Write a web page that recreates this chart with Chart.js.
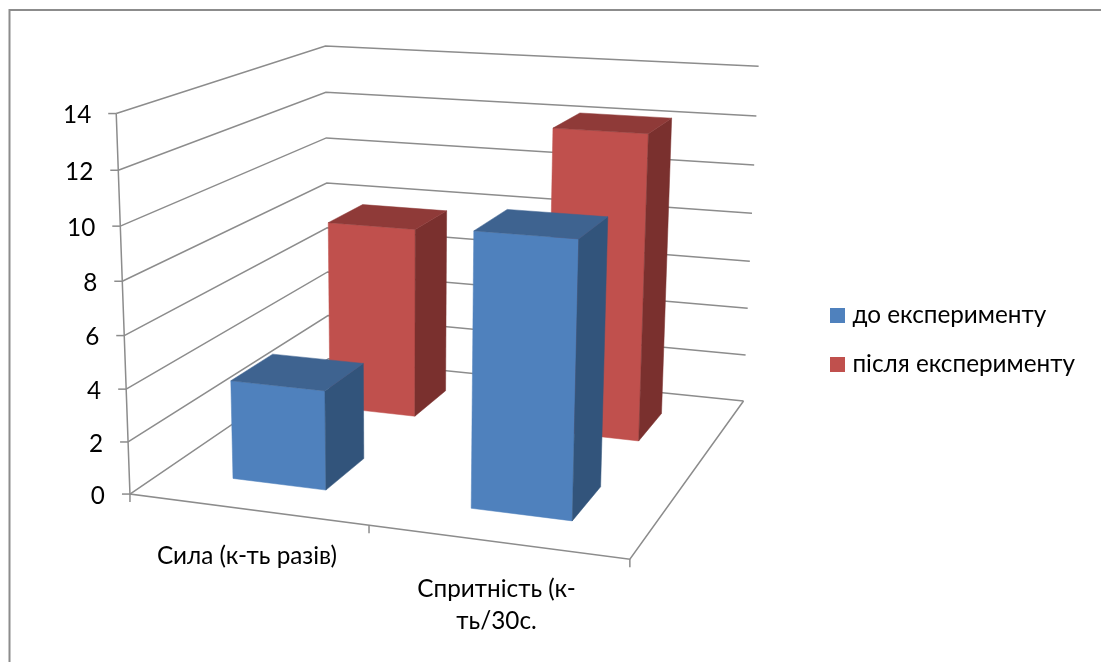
<!DOCTYPE html>
<html>
<head>
<meta charset="utf-8">
<title>Сила і спритність</title>
<script src="https://cdn.jsdelivr.net/npm/chart.js@4"></script>
<style>
  html, body { margin: 0; background: #fff; }
  canvas { display: block; }
</style>
</head>
<body>
<canvas id="myChart" width="1101" height="662"></canvas>
<script>
const categories = ["Сила (к-ть разів)", ["Спритність (к-", "ть/30с."]];
const beforeValues = [3.8, 10.15];
const afterValues = [7.8, 12.2];
const seriesNames = ["до експерименту", "після експерименту"];
const yMax = 14;
const yStep = 2;

const FONT = "Lato, 'Noto Sans', sans-serif";
const FONT_SIZE = 24.3;

// face colours of each series: front, top, side
const faces = [
  ["#4f81bd", "#3e6390", "#32547b"],
  ["#c0504d", "#8f3a38", "#7a302e"],
];

// corners of the plot box as [u, w, t] -> screen x, y
// u runs along the categories, w into the page, t up the value axis
const boxCorners = [
  [0, 0, 0, 131, 492],
  [0, 0, 1, 115, 114],
  [0, 1, 0, 327, 361],
  [0, 1, 1, 327, 45],
  [1, 1, 0, 744, 399],
  [1, 1, 1, 758, 67],
  [1, 0, 0, 630, 561],
];

// least squares fit of a 3x4 camera matrix, last entry fixed to 1
function fitCamera(pts) {
  const n = 11;
  const A = [];
  for (let i = 0; i < n; i++) A.push(new Array(n + 1).fill(0));
  function addRow(row, rhs) {
    for (let i = 0; i < n; i++) {
      for (let j = 0; j < n; j++) A[i][j] += row[i] * row[j];
      A[i][n] += row[i] * rhs;
    }
  }
  pts.forEach(function (p) {
    const x = p[3] / 1000, y = p[4] / 1000;
    addRow([p[0], p[1], p[2], 1, 0, 0, 0, 0, -x * p[0], -x * p[1], -x * p[2]], x);
    addRow([0, 0, 0, 0, p[0], p[1], p[2], 1, -y * p[0], -y * p[1], -y * p[2]], y);
  });
  for (let c = 0; c < n; c++) {
    let best = c;
    for (let r = c + 1; r < n; r++) if (Math.abs(A[r][c]) > Math.abs(A[best][c])) best = r;
    const tmp = A[c]; A[c] = A[best]; A[best] = tmp;
    for (let r = 0; r < n; r++) {
      if (r === c) continue;
      const f = A[r][c] / A[c][c];
      for (let k = c; k <= n; k++) A[r][k] -= f * A[c][k];
    }
  }
  return A.map(function (row, i) { return row[n] / row[i]; });
}

const cam = fitCamera(boxCorners);

function project(u, w, t) {
  const d = cam[8] * u + cam[9] * w + cam[10] * t + 1;
  return {
    x: 1000 * (cam[0] * u + cam[1] * w + cam[2] * t + cam[3]) / d,
    y: 1000 * (cam[4] * u + cam[5] * w + cam[6] * t + cam[7]) / d,
  };
}

function line(ctx, pts) {
  ctx.beginPath();
  pts.forEach(function (p, i) {
    if (i === 0) ctx.moveTo(p.x, p.y);
    else ctx.lineTo(p.x, p.y);
  });
  ctx.stroke();
}

function face(ctx, pts, color) {
  ctx.beginPath();
  pts.forEach(function (p, i) {
    if (i === 0) ctx.moveTo(p.x, p.y);
    else ctx.lineTo(p.x, p.y);
  });
  ctx.closePath();
  ctx.fillStyle = color;
  ctx.fill();
  // thin stroke so neighbouring faces don't leave a seam
  ctx.strokeStyle = color;
  ctx.lineWidth = 0.5;
  ctx.stroke();
}

// legend marker as a small canvas, the legend keeps a tighter gap to the text this way
function swatch(color) {
  const c = document.createElement("canvas");
  c.width = 15;
  c.height = 15;
  const g = c.getContext("2d");
  g.fillStyle = color;
  g.fillRect(0, 0, 15, 15);
  return c;
}

const box3d = {
  id: "box3d",
  beforeDraw(chart) {
    const ctx = chart.ctx;
    ctx.save();
    ctx.fillStyle = "#fff";
    ctx.fillRect(0, 0, chart.width, chart.height);
    ctx.strokeStyle = "#8c8c8c";
    ctx.lineWidth = 2;
    ctx.strokeRect(9.5, 10, chart.width + 20, chart.height + 20);
    ctx.restore();
  },
  beforeDatasetsDraw(chart) {
    const ctx = chart.ctx;
    const area = chart.chartArea;
    const xs = chart.scales.x;
    const ys = chart.scales.y;
    const toU = function (px) { return (px - area.left) / (area.right - area.left); };
    const toT = function (px) { return (area.bottom - px) / (area.bottom - area.top); };

    ctx.save();
    ctx.strokeStyle = "#8c8c8c";
    ctx.lineWidth = 1.5;

    // value gridlines on both walls, with ticks and labels on the left edge
    ctx.font = FONT_SIZE + "px " + FONT;
    ctx.fillStyle = "#000";
    ctx.textAlign = "right";
    ctx.textBaseline = "middle";
    ys.ticks.forEach(function (tick) {
      const t = toT(ys.getPixelForValue(tick.value));
      const a = project(0, 0, t);
      line(ctx, [a, project(0, 1, t), project(1, 1, t)]);
      line(ctx, [{ x: a.x - 8, y: a.y }, a]);
      ctx.fillText(tick.label, a.x - 25, a.y + 2);
    });

    // left edge of the value axis and the floor
    line(ctx, [project(0, 0, 1), project(0, 0, 0), project(1, 0, 0), project(1, 1, 0)]);

    // category ticks along the front edge of the floor
    for (let i = 0; i <= categories.length; i++) {
      const p = project(i / categories.length, 0, 0);
      line(ctx, [p, { x: p.x, y: p.y + 8 }]);
    }

    // category labels
    ctx.textAlign = "center";
    xs.ticks.forEach(function (tick, i) {
      const p = project(toU(xs.getPixelForTick(i)), 0, 0);
      const rows = [].concat(categories[i]);
      rows.forEach(function (row, k) {
        ctx.fillText(row, p.x, p.y + 47 + k * 32);
      });
    });

    // columns, back row first so the front row covers it
    const rowCount = chart.data.datasets.length;
    for (let d = rowCount - 1; d >= 0; d--) {
      const meta = chart.getDatasetMeta(d);
      const wMid = (d + 0.5) / rowCount;
      const wHalf = 0.2 / rowCount * 2 / 2;
      meta.data.forEach(function (bar) {
        const u0 = toU(bar.x - bar.width / 2);
        const u1 = toU(bar.x + bar.width / 2);
        const w0 = wMid - wHalf;
        const w1 = wMid + wHalf;
        const t = toT(bar.y);
        face(ctx, [project(u0, w0, 0), project(u1, w0, 0), project(u1, w0, t), project(u0, w0, t)], faces[d][0]);
        face(ctx, [project(u1, w0, 0), project(u1, w1, 0), project(u1, w1, t), project(u1, w0, t)], faces[d][2]);
        face(ctx, [project(u0, w0, t), project(u1, w0, t), project(u1, w1, t), project(u0, w1, t)], faces[d][1]);
      });
    }
    ctx.restore();
    // flat bars are replaced by the columns above
    return false;
  },
};

const swatches = faces.map(function (f) { return swatch(f[0]); });

const ctx = document.getElementById("myChart").getContext("2d");
const chart = new Chart(ctx, {
  type: "bar",
  data: {
    labels: categories,
    datasets: [
      { label: seriesNames[0], data: beforeValues, backgroundColor: faces[0][0] },
      { label: seriesNames[1], data: afterValues, backgroundColor: faces[1][0] },
    ],
  },
  options: {
    responsive: false,
    animation: false,
    layout: { padding: { top: 18, right: 16 } },
    datasets: { bar: { grouped: false, barPercentage: 0.4, categoryPercentage: 1 } },
    scales: {
      x: { display: false },
      y: { display: false, min: 0, max: yMax, ticks: { stepSize: yStep } },
    },
    plugins: {
      tooltip: { enabled: false },
      legend: {
        position: "right",
        labels: {
          color: "#000",
          usePointStyle: true,
          pointStyleWidth: 5,
          padding: 24.7,
          font: { family: FONT, size: FONT_SIZE },
          generateLabels(chart) {
            return Chart.defaults.plugins.legend.labels.generateLabels(chart).map(function (item, i) {
              item.pointStyle = swatches[i];
              return item;
            });
          },
        },
      },
    },
  },
  plugins: [box3d],
});
</script>
</body>
</html>
